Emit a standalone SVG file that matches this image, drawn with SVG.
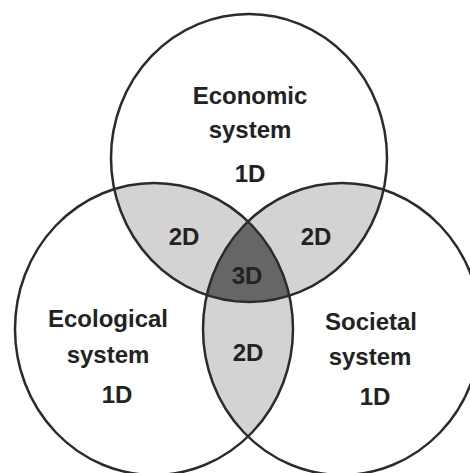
<svg xmlns="http://www.w3.org/2000/svg" width="470" height="473" viewBox="0 0 470 473">
  <style>
    .ring { fill: none; stroke: #2b2b2b; stroke-width: 2.5; }
    .bg { fill: #ffffff; }
    .pair { fill: #d3d3d3; }
    .triple { fill: #666666; }
    .lbl { font-family: "Liberation Sans", Arial, sans-serif; font-weight: bold; font-size: 24px; fill: #222222; text-anchor: middle; }
  </style>
  <defs>
    <clipPath id="clipTop"><ellipse cx="249" cy="158" rx="138" ry="144"/></clipPath>
    <clipPath id="clipLeft"><ellipse cx="154" cy="329" rx="139" ry="146"/></clipPath>
    <clipPath id="clipRight"><ellipse cx="342" cy="329" rx="139" ry="146"/></clipPath>
    <clipPath id="clipTopLeft" clip-path="url(#clipTop)"><ellipse cx="154" cy="329" rx="139" ry="146"/></clipPath>
  </defs>
  <rect width="470" height="473" fill="#ffffff"/>
  <g id="regions">
    <ellipse class="pair" cx="154" cy="329" rx="139" ry="146" clip-path="url(#clipTop)"/>
    <ellipse class="pair" cx="342" cy="329" rx="139" ry="146" clip-path="url(#clipTop)"/>
    <ellipse class="pair" cx="342" cy="329" rx="139" ry="146" clip-path="url(#clipLeft)"/>
    <ellipse class="triple" cx="342" cy="329" rx="139" ry="146" clip-path="url(#clipTopLeft)"/>
  </g>
  <g id="economic">
    <ellipse class="ring" cx="249" cy="158" rx="138" ry="144"/>
    <text class="lbl" x="250" y="104">Economic</text>
    <text class="lbl" x="250" y="138">system</text>
    <text class="lbl" x="250" y="182">1D</text>
  </g>
  <g id="ecological">
    <ellipse class="ring" cx="154" cy="329" rx="139" ry="146"/>
    <text class="lbl" x="108" y="327">Ecological</text>
    <text class="lbl" x="108" y="363">system</text>
    <text class="lbl" x="117" y="403">1D</text>
  </g>
  <g id="societal">
    <ellipse class="ring" cx="342" cy="329" rx="139" ry="146"/>
    <text class="lbl" x="371" y="330">Societal</text>
    <text class="lbl" x="370" y="365">system</text>
    <text class="lbl" x="375" y="405">1D</text>
  </g>
  <g id="overlap-labels">
    <text class="lbl" x="184" y="245">2D</text>
    <text class="lbl" x="316" y="245">2D</text>
    <text class="lbl" x="248" y="361">2D</text>
    <text class="lbl" x="247" y="284">3D</text>
  </g>
  <g id="connectors"/>
</svg>
